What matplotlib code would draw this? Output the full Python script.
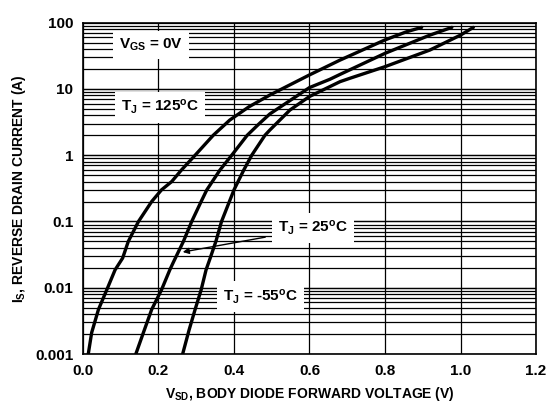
import numpy as np
import matplotlib
matplotlib.use("Agg")
import matplotlib.pyplot as plt
from matplotlib.ticker import FixedLocator, NullFormatter

plt.rcParams['font.family'] = 'Liberation Sans'
plt.rcParams['font.weight'] = 'bold'
plt.rcParams['mathtext.fontset'] = 'custom'
plt.rcParams['mathtext.rm'] = 'Liberation Sans:bold'
plt.rcParams['mathtext.it'] = 'Liberation Sans:bold'
plt.rcParams['mathtext.bf'] = 'Liberation Sans:bold'

# body diode forward characteristic, one curve per junction temperature
v_125 = [0.014, 0.023, 0.041, 0.063, 0.085, 0.105, 0.120, 0.147, 0.182, 0.208,
         0.235, 0.261, 0.297, 0.345, 0.389, 0.440, 0.495, 0.600, 0.681, 0.800,
         0.857, 0.897]
i_125 = [0.001, 0.0021, 0.0047, 0.0093, 0.0186, 0.028, 0.05, 0.1, 0.2, 0.3,
         0.4, 0.6, 1.0, 2.0, 3.4, 5.4, 8.1, 16.3, 27.3, 55,
         73, 85]

v_25 = [0.140, 0.160, 0.182, 0.208, 0.230, 0.239, 0.266, 0.288, 0.313, 0.328,
        0.363, 0.394, 0.435, 0.467, 0.495, 0.600, 0.654, 0.681, 0.800, 0.919, 0.977]
i_25 = [0.001, 0.0021, 0.0047, 0.0093, 0.0186, 0.024, 0.05, 0.1, 0.2, 0.3,
        0.6, 1.0, 2.0, 3.0, 4.2, 10.5, 14.0, 16.6, 34.5, 65, 85]

v_m55 = [0.264, 0.281, 0.297, 0.313, 0.326, 0.336, 0.352, 0.367, 0.400, 0.426,
         0.447, 0.482, 0.495, 0.548, 0.600, 0.681, 0.707, 0.800, 0.919, 1.000, 1.034]
i_m55 = [0.001, 0.0023, 0.0047, 0.0093, 0.0186, 0.027, 0.05, 0.1, 0.3, 0.6,
         1.0, 2.0, 2.4, 4.8, 7.7, 12.9, 14.5, 21.7, 38.7, 65, 85]

x_ticks = [0.0, 0.2, 0.4, 0.6, 0.8, 1.0, 1.2]
y_ticks = [0.001, 0.01, 0.1, 1, 10, 100]
y_ticklabels = ['0.001', '0.01', '0.1', '1', '10', '100']

fig = plt.figure(figsize=(5.51, 4.07), dpi=100)
ax = fig.add_axes([0.1506, 0.1302, 0.8222, 0.814])
ax.set_yscale('log')
ax.set_xlim(0, 1.2)
ax.set_ylim(0.001, 100)

# grid: every 0.2 V, every minor step of each decade
for xv in x_ticks:
    ax.axvline(xv, color='black', lw=0.9, zorder=1)
for d in range(-3, 2):
    for m in range(1, 11):
        ax.axhline(m * 10.0 ** d, color='black', lw=0.9, zorder=1)

for v, i in [(v_125, i_125), (v_25, i_25), (v_m55, i_m55)]:
    ax.plot(v, i, color='black', lw=2.4, solid_capstyle='round',
            solid_joinstyle='round', zorder=4)

ax.xaxis.set_major_locator(FixedLocator(x_ticks))
ax.set_xticklabels(['%.1f' % t for t in x_ticks])
ax.yaxis.set_major_locator(FixedLocator(y_ticks))
ax.yaxis.set_minor_formatter(NullFormatter())
ax.set_yticklabels(y_ticklabels)
ax.tick_params(which='both', length=0, labelsize=11, pad=7)
for lbl in ax.get_xticklabels() + ax.get_yticklabels():
    lbl.set_fontweight('bold')
for s in ax.spines.values():
    s.set_linewidth(1.2)

ax.set_xlabel(r'$\mathregular{V_{SD}}$, BODY DIODE FORWARD VOLTAGE (V)',
              fontsize=10, fontweight='bold', labelpad=5)
ax.set_ylabel(r'$\mathregular{I_S}$, REVERSE DRAIN CURRENT (A)',
              fontsize=10, fontweight='bold', labelpad=5)

box = dict(boxstyle='square,pad=0.4', fc='white', ec='none')
ax.text(0.18, 46, r'$\mathregular{V_{GS}}$ = 0V', fontsize=11,
        ha='center', va='center', bbox=box, zorder=5)
ax.text(0.204, 5.3, r'$\mathregular{T_J}$ = 125$\mathregular{^oC}$', fontsize=11,
        ha='center', va='center', bbox=box, zorder=5)
ax.text(0.609, 0.080, r'$\mathregular{T_J}$ = 25$\mathregular{^oC}$', fontsize=11,
        ha='center', va='center', bbox=box, zorder=5)
ax.text(0.469, 0.0073, r'$\mathregular{T_J}$ = -55$\mathregular{^oC}$', fontsize=11,
        ha='center', va='center', bbox=box, zorder=5)
ax.annotate('', xy=(0.257, 0.034), xytext=(0.49, 0.059),
            arrowprops=dict(arrowstyle='-|>', color='black', lw=1.0,
                            mutation_scale=9), zorder=6)

fig.savefig('out.png', dpi=100)
